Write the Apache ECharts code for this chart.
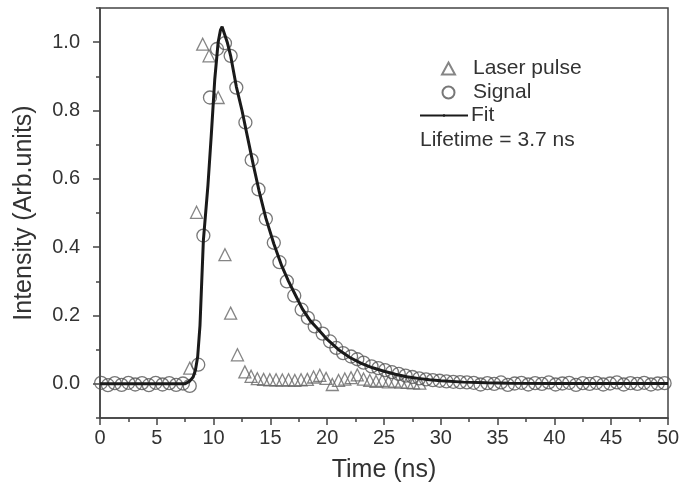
<!DOCTYPE html>
<html>
<head>
<meta charset="utf-8">
<script src="https://cdn.jsdelivr.net/npm/echarts@6/dist/echarts.min.js"></script>
<style>
  html, body { margin: 0; padding: 0; background: #fff; }
  #chart { width: 694px; height: 489px; }
</style>
</head>
<body>
<div id="chart"></div>
<script>
// signal (circles)
const signalTime = [0.1, 0.7, 1.3, 1.9, 2.5, 3.1, 3.7, 4.3, 4.9, 5.5, 6.1, 6.7, 7.3, 7.9,
  8.65, 9.1, 9.68, 10.3, 11.0, 11.5, 12.0, 12.8, 13.35, 13.95, 14.6, 15.3, 15.8, 16.45,
  17.1, 17.75, 18.3, 18.9, 19.6, 20.25, 20.8, 21.4, 22.1, 22.65, 23.2, 23.9, 24.5, 25.1,
  25.7, 26.3, 26.9, 27.5, 28.1, 28.7, 29.3, 29.9, 30.5, 31.1, 31.7, 32.3, 32.9, 33.5,
  34.1, 34.7, 35.3, 35.9, 36.5, 37.1, 37.7, 38.3, 38.9, 39.5, 40.1, 40.7, 41.3, 41.9,
  42.5, 43.1, 43.7, 44.3, 44.9, 45.5, 46.1, 46.7, 47.3, 47.9, 48.5, 49.1, 49.7]
const signalValue = [0.003, -0.004, 0.002, -0.003, 0.003, -0.002, 0.002, -0.004, 0.003, -0.002, 0.002, -0.003, 0.001, -0.006,
  0.056, 0.434, 0.838, 0.98, 0.997, 0.96, 0.867, 0.765, 0.655, 0.569, 0.483, 0.413, 0.356, 0.30,
  0.258, 0.217, 0.193, 0.168, 0.147, 0.124, 0.105, 0.09, 0.08, 0.072, 0.062, 0.051, 0.046, 0.040,
  0.034, 0.029, 0.024, 0.020, 0.016, 0.013, 0.011, 0.009, 0.007, 0.006, 0.005, 0.004, 0.003, -0.002,
  0.002, 0.0, 0.004, -0.003, 0.001, 0.003, -0.002, 0.002, 0.0, 0.004, -0.002, 0.001, 0.003, -0.003,
  0.002, 0.0, 0.003, -0.002, 0.001, 0.004, -0.002, 0.002, 0.0, 0.003, -0.002, 0.001, 0.002]

// laser pulse (triangles)
const laserTime = [7.9, 8.5, 9.04, 9.6, 10.4, 11.0, 11.5, 12.1, 12.75, 13.3, 13.85, 14.4, 14.95,
  15.5, 16.05, 16.6, 17.15, 17.7, 18.25, 18.8, 19.35, 19.9, 20.45, 21.0, 21.55, 22.1, 22.65,
  23.2, 23.75, 24.3, 24.85, 25.4, 25.95, 26.5, 27.05, 27.6, 28.15]
const laserValue = [0.046, 0.502, 0.994, 0.96, 0.838, 0.378, 0.207, 0.085, 0.035, 0.022, 0.015, 0.013, 0.012,
  0.012, 0.011, 0.012, 0.010, 0.012, 0.013, 0.020, 0.025, 0.016, -0.002, 0.010, 0.014, 0.018, 0.026,
  0.014, 0.010, 0.007, 0.010, 0.006, 0.008, 0.005, 0.004, 0.003, 0.002]

// fit curve
const fitTime = [0, 7.5, 7.9, 8.2, 8.4, 8.6, 8.8, 9.1, 9.5, 9.8, 10.1, 10.4, 10.6, 10.75, 10.9,
  11.2, 11.5, 12.0, 12.5, 13.0, 13.5, 14.0, 14.6, 15.3, 16.0, 16.6, 17.2, 17.8, 18.5, 19.2,
  20, 21, 22, 23, 24, 25, 26, 27, 28, 29, 30, 32, 34, 36, 40, 50]
const fitValue = [0, 0, 0.008, 0.02, 0.04, 0.08, 0.17, 0.42, 0.58, 0.73, 0.89, 1.0, 1.035, 1.045, 1.03,
  1.0, 0.96, 0.87, 0.8, 0.72, 0.64, 0.565, 0.485, 0.41, 0.345, 0.30, 0.26, 0.22, 0.185, 0.16,
  0.13, 0.10, 0.077, 0.06, 0.047, 0.037, 0.028, 0.021, 0.016, 0.012, 0.009, 0.005, 0.003, 0.002, 0.001, 0.001]

const yLabels = [0, 0.2, 0.4, 0.6, 0.8, 1.0]

const zip = (xs, ys) => xs.map((x, i) => [x, ys[i]])

const chart = echarts.init(document.getElementById('chart'))
const font = 'Liberation Sans, Arial, Helvetica, sans-serif'
const ink = '#333'
const axisInk = { color: '#444', width: 1.5 }

chart.setOption({
  animation: false,
  textStyle: { fontFamily: font },
  grid: {
    left: 100, right: 26, top: 8, bottom: 71,
    show: true, borderColor: '#444', borderWidth: 1.5
  },
  legend: [
    {
      data: ['Laser pulse', 'Signal'],
      orient: 'vertical',
      left: 436, top: 53,
      itemWidth: 13, itemHeight: 12, itemGap: 3,
      textStyle: { fontSize: 21, color: ink, padding: [0, 0, 0, 13] }
    },
    {
      data: ['Fit'],
      left: 414, top: 100,
      itemWidth: 48, itemHeight: 3,
      textStyle: { fontSize: 21, color: ink, padding: [0, 0, 0, -2] }
    }
  ],
  graphic: [{
    type: 'text', left: 420, top: 130,
    style: { text: 'Lifetime = 3.7 ns', font: '21px ' + font, fill: ink }
  }],
  xAxis: {
    type: 'value', min: 0, max: 50, interval: 5,
    name: 'Time (ns)', nameLocation: 'middle', nameGap: 40,
    nameTextStyle: { fontSize: 25, color: ink },
    axisLine: { onZero: false, lineStyle: axisInk },
    axisTick: { length: 7, lineStyle: axisInk },
    minorTick: { show: true, splitNumber: 2, length: 4, lineStyle: axisInk },
    axisLabel: { fontSize: 20, color: ink, margin: 10 },
    splitLine: { show: false }
  },
  yAxis: [
    {
      type: 'value', min: -0.1, max: 1.1, interval: 0.1,
      name: 'Intensity (Arb.units)', nameLocation: 'middle', nameGap: 63,
      nameTextStyle: { fontSize: 25, color: ink },
      axisLine: { show: true, onZero: false, lineStyle: axisInk },
      axisTick: { show: true, length: 7, customValues: yLabels, lineStyle: axisInk },
      axisLabel: {
        fontSize: 20, color: ink, margin: 20, customValues: yLabels,
        formatter: v => v.toFixed(1)
      },
      splitLine: { show: false }
    },
    {
      type: 'value', min: -0.1, max: 1.1, interval: 0.1, position: 'left',
      axisLine: { show: false },
      axisTick: { show: true, length: 4, lineStyle: axisInk },
      axisLabel: { show: false },
      splitLine: { show: false }
    }
  ],
  series: [
    {
      name: 'Laser pulse', type: 'scatter', symbol: 'triangle', symbolSize: 12,
      itemStyle: { color: 'transparent', borderColor: '#666', borderWidth: 1.3 },
      data: zip(laserTime, laserValue), z: 2
    },
    {
      name: 'Signal', type: 'scatter', symbol: 'circle', symbolSize: 13,
      itemStyle: { color: 'transparent', borderColor: '#555', borderWidth: 1.3 },
      data: zip(signalTime, signalValue), z: 2
    },
    {
      name: 'Fit', type: 'line', showSymbol: false, symbol: 'none',
      lineStyle: { color: '#1a1a1a', width: 3 }, itemStyle: { color: '#1a1a1a' },
      data: zip(fitTime, fitValue), z: 3
    }
  ]
})
</script>
</body>
</html>
